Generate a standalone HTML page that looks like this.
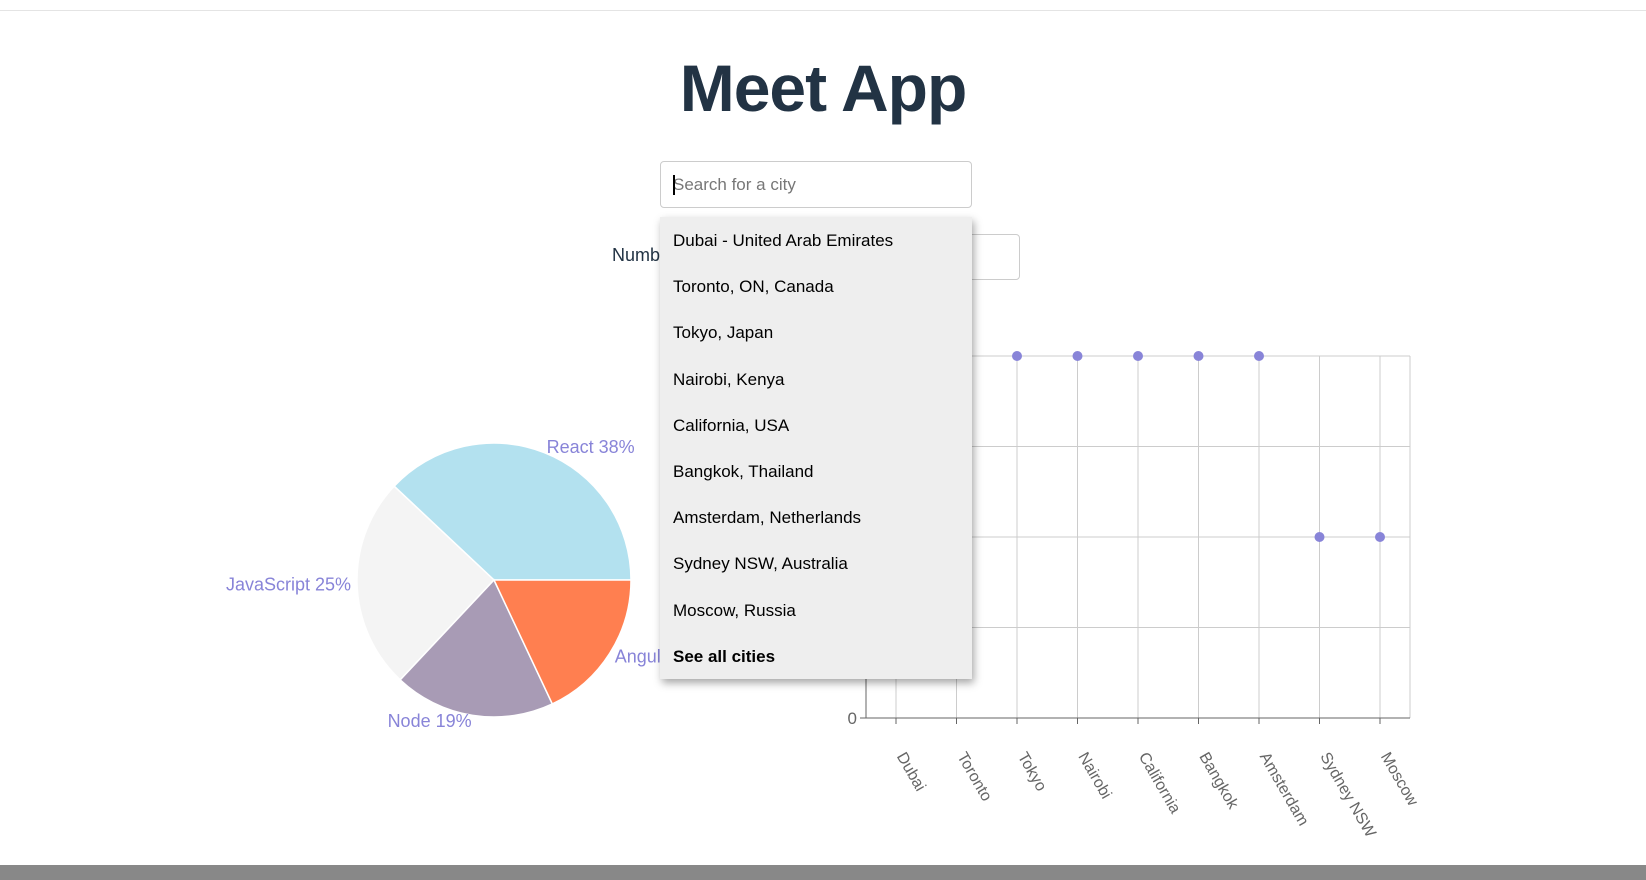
<!DOCTYPE html>
<html><head><meta charset="utf-8"><style>
html,body{margin:0;padding:0;width:1646px;height:880px;overflow:hidden;background:#fff;font-family:"Liberation Sans",sans-serif;}
.abs{position:absolute;}
#topline{left:0;top:10px;width:1646px;height:1px;background:#e4e4e4;}
#bottom{left:0;top:865px;width:1646px;height:15px;background:#888;}
h1{position:absolute;left:0;width:1646px;top:50px;margin:0;text-align:center;font-size:66px;font-weight:bold;color:#223344;letter-spacing:-1px;}
#search{left:660px;top:161px;width:312px;height:47px;border:1px solid #ccc;border-radius:4px;box-sizing:border-box;font-size:17px;color:#777;padding:0 12px;line-height:45px;}
#caret{position:absolute;left:12px;top:13px;width:1.5px;height:20px;background:#000;}
#numlabel{left:612px;top:245px;font-size:18px;color:#223344;}
#numinput{left:940px;top:234px;width:80px;height:46px;border:1px solid #ccc;border-radius:4px;box-sizing:border-box;}
#drop{left:660px;top:217px;width:312px;height:462px;background:#eee;box-shadow:2px 4px 8px rgba(0,0,0,0.35);}
.item{position:absolute;left:13px;font-size:17px;color:#000;}
</style></head><body>
<div class="abs" id="topline"></div>
<h1>Meet App</h1>
<div class="abs" id="numlabel">Number of events</div>
<div class="abs" id="numinput"></div>
<svg class="abs" style="left:0;top:0" width="1646" height="880" id="charts"></svg>
<div class="abs" id="search"><span id="caret"></span>Search for a city</div>
<div class="abs" id="drop"></div>
<div class="abs" id="bottom"></div>
<script>
const suggestions=["Dubai - United Arab Emirates","Toronto, ON, Canada","Tokyo, Japan","Nairobi, Kenya","California, USA","Bangkok, Thailand","Amsterdam, Netherlands","Sydney NSW, Australia","Moscow, Russia"];
const cities=["Dubai","Toronto","Tokyo","Nairobi","California","Bangkok","Amsterdam","Sydney NSW","Moscow"];
const counts=[4,4,4,4,4,4,4,2,2];
const yTicks=[0,1,2,3,4];
const genres=["React","JavaScript","Node","Angular"];
const genreValues=[38,25,19,18];
const genreColors=["#b3e1ef","#f4f4f4","#a89bb5","#ff7f50"];

const drop=document.getElementById('drop');
suggestions.forEach((s,i)=>{
  const d=document.createElement('div');d.className='item';
  
  
  d.style.top=(14+i*46.2)+'px';d.textContent=s;drop.appendChild(d);
});
const all=document.createElement('div');all.className='item';


all.style.top=(14+9*46.2)+'px';all.style.fontWeight='bold';all.textContent='See all cities';drop.appendChild(all);

const NS='http://www.w3.org/2000/svg';
const svg=document.getElementById('charts');
function el(t,a){const e=document.createElementNS(NS,t);for(const k in a)e.setAttribute(k,a[k]);svg.appendChild(e);return e;}
const L=866,R=1410,T=356,B=718;
const xs=i=>896+i*60.5;
const ys=v=>B-(v/4)*(B-T);
yTicks.forEach(v=>{const g=el('line',{x1:L,x2:R,y1:ys(v),y2:ys(v),stroke:'#ccc'});

});
cities.forEach((c,i)=>{const g=el('line',{x1:xs(i),x2:xs(i),y1:T,y2:B,stroke:'#ccc'});

});
el('line',{x1:R,x2:R,y1:T,y2:B,stroke:'#ccc'});
el('line',{x1:L,x2:R,y1:B,y2:B,stroke:'#666'});
el('line',{x1:L,x2:L,y1:T,y2:B,stroke:'#666'});
yTicks.forEach(v=>{el('line',{x1:L-6,x2:L,y1:ys(v),y2:ys(v),stroke:'#666'});
const t=el('text',{x:L-9,y:ys(v)+6,'text-anchor':'end','font-size':17,fill:'#666'});t.textContent=v;

});
cities.forEach((c,i)=>{el('line',{x1:xs(i),x2:xs(i),y1:B,y2:B+6,stroke:'#666'});
const t=el('text',{x:xs(i)+4,y:B+36,'font-size':16,fill:'#666',transform:`rotate(60 ${xs(i)+4} ${B+36})`,'text-anchor':'start','dominant-baseline':'middle'});t.textContent=c;


const p=el('circle',{cx:xs(i),cy:ys(counts[i]),r:5,fill:'#8884d8'});

});
const cx=494,cy=580,r=137;
const total=genreValues.reduce((a,b)=>a+b,0);
let a0=0;
genreValues.forEach((v,i)=>{
  const a1=a0+v/total*2*Math.PI;
  const x0=cx+r*Math.cos(a0),y0=cy-r*Math.sin(a0),x1=cx+r*Math.cos(a1),y1=cy-r*Math.sin(a1);
  const large=(a1-a0)>Math.PI?1:0;
  const p=el('path',{d:`M${cx},${cy}L${x0},${y0}A${r},${r} 0 ${large} 0 ${x1},${y1}Z`,fill:genreColors[i],stroke:'#fff','stroke-width':1.5});
  
  
  const m=(a0+a1)/2,lr=143;
  const lx=cx+lr*Math.cos(m),ly=cy-lr*Math.sin(m);
  const t=el('text',{x:lx,y:ly+6,'text-anchor':Math.cos(m)>=0?'start':'end','font-size':18,fill:'#8884d8'});
  t.textContent=genres[i]+' '+v+'%';
  
  
  a0=a1;
});
</script>
</body></html>
